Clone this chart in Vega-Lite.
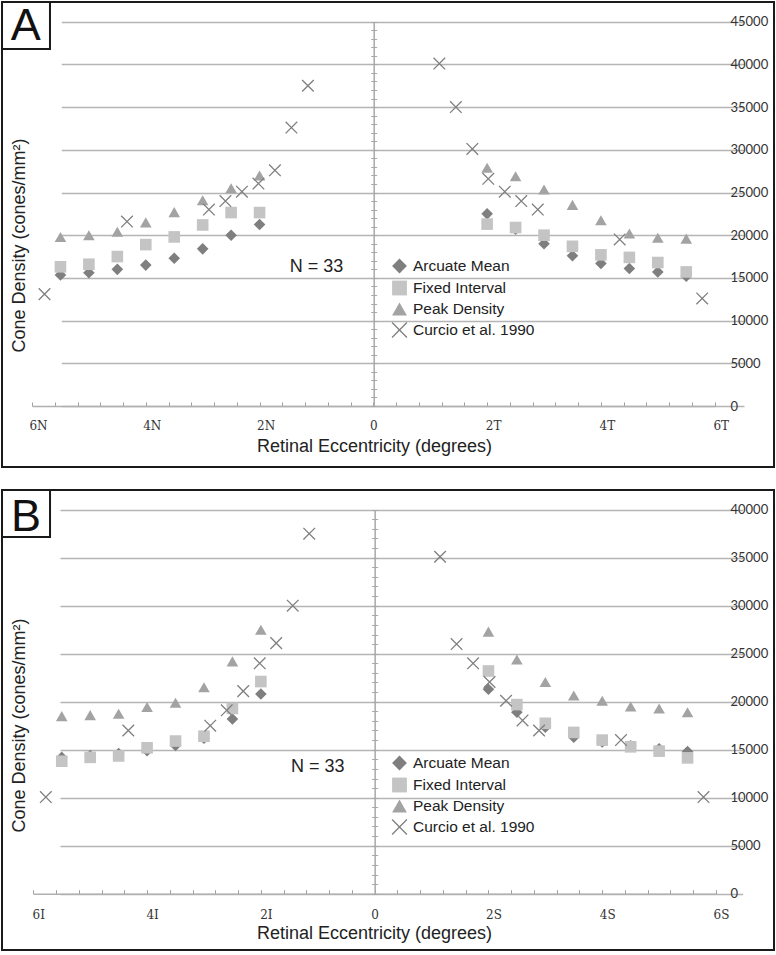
{
  "$schema": "https://vega.github.io/schema/vega-lite/v6.json",
  "padding": 0,
  "background": "white",
  "spacing": 20,
  "config": {
    "view": {"stroke": "#1a1a1a", "strokeWidth": 2},
    "font": "Liberation Sans"
  },
  "resolve": {"scale": {"shape": "independent", "fill": "independent", "stroke": "independent"}},
  "datasets": {
    "A": [
      {"series": "Arcuate Mean", "x": -5.5, "y": 15350},
      {"series": "Arcuate Mean", "x": -5, "y": 15600},
      {"series": "Arcuate Mean", "x": -4.5, "y": 16000},
      {"series": "Arcuate Mean", "x": -4, "y": 16500},
      {"series": "Arcuate Mean", "x": -3.5, "y": 17300},
      {"series": "Arcuate Mean", "x": -3, "y": 18400},
      {"series": "Arcuate Mean", "x": -2.5, "y": 20000},
      {"series": "Arcuate Mean", "x": -2, "y": 21250},
      {"series": "Arcuate Mean", "x": 2, "y": 22500},
      {"series": "Arcuate Mean", "x": 2.5, "y": 20700},
      {"series": "Arcuate Mean", "x": 3, "y": 19000},
      {"series": "Arcuate Mean", "x": 3.5, "y": 17600},
      {"series": "Arcuate Mean", "x": 4, "y": 16700},
      {"series": "Arcuate Mean", "x": 4.5, "y": 16100},
      {"series": "Arcuate Mean", "x": 5, "y": 15700},
      {"series": "Arcuate Mean", "x": 5.5, "y": 15200},
      {"series": "Fixed Interval", "x": -5.5, "y": 16300},
      {"series": "Fixed Interval", "x": -5, "y": 16600},
      {"series": "Fixed Interval", "x": -4.5, "y": 17500},
      {"series": "Fixed Interval", "x": -4, "y": 18900},
      {"series": "Fixed Interval", "x": -3.5, "y": 19800},
      {"series": "Fixed Interval", "x": -3, "y": 21200},
      {"series": "Fixed Interval", "x": -2.5, "y": 22650},
      {"series": "Fixed Interval", "x": -2, "y": 22650},
      {"series": "Fixed Interval", "x": 2, "y": 21300},
      {"series": "Fixed Interval", "x": 2.5, "y": 20900},
      {"series": "Fixed Interval", "x": 3, "y": 20000},
      {"series": "Fixed Interval", "x": 3.5, "y": 18700},
      {"series": "Fixed Interval", "x": 4, "y": 17700},
      {"series": "Fixed Interval", "x": 4.5, "y": 17400},
      {"series": "Fixed Interval", "x": 5, "y": 16800},
      {"series": "Fixed Interval", "x": 5.5, "y": 15700},
      {"series": "Peak Density", "x": -5.5, "y": 19800},
      {"series": "Peak Density", "x": -5, "y": 20000},
      {"series": "Peak Density", "x": -4.5, "y": 20400},
      {"series": "Peak Density", "x": -4, "y": 21500},
      {"series": "Peak Density", "x": -3.5, "y": 22700},
      {"series": "Peak Density", "x": -3, "y": 24100},
      {"series": "Peak Density", "x": -2.5, "y": 25500},
      {"series": "Peak Density", "x": -2, "y": 27000},
      {"series": "Peak Density", "x": 2, "y": 27900},
      {"series": "Peak Density", "x": 2.5, "y": 26900},
      {"series": "Peak Density", "x": 3, "y": 25350},
      {"series": "Peak Density", "x": 3.5, "y": 23550},
      {"series": "Peak Density", "x": 4, "y": 21750},
      {"series": "Peak Density", "x": 4.5, "y": 20200},
      {"series": "Peak Density", "x": 5, "y": 19700},
      {"series": "Peak Density", "x": 5.5, "y": 19600},
      {"series": "Curcio et al. 1990", "x": -5.78, "y": 13100},
      {"series": "Curcio et al. 1990", "x": -4.33, "y": 21600},
      {"series": "Curcio et al. 1990", "x": -2.89, "y": 23000},
      {"series": "Curcio et al. 1990", "x": -2.6, "y": 24000},
      {"series": "Curcio et al. 1990", "x": -2.31, "y": 25100},
      {"series": "Curcio et al. 1990", "x": -2.02, "y": 26050},
      {"series": "Curcio et al. 1990", "x": -1.73, "y": 27600},
      {"series": "Curcio et al. 1990", "x": -1.44, "y": 32600},
      {"series": "Curcio et al. 1990", "x": -1.15, "y": 37500},
      {"series": "Curcio et al. 1990", "x": 1.16, "y": 40100},
      {"series": "Curcio et al. 1990", "x": 1.45, "y": 35000},
      {"series": "Curcio et al. 1990", "x": 1.74, "y": 30100},
      {"series": "Curcio et al. 1990", "x": 2.02, "y": 26600},
      {"series": "Curcio et al. 1990", "x": 2.31, "y": 25100},
      {"series": "Curcio et al. 1990", "x": 2.6, "y": 24000},
      {"series": "Curcio et al. 1990", "x": 2.89, "y": 23000},
      {"series": "Curcio et al. 1990", "x": 4.33, "y": 19500},
      {"series": "Curcio et al. 1990", "x": 5.78, "y": 12600}
    ],
    "B": [
      {"series": "Arcuate Mean", "x": -5.5, "y": 14200},
      {"series": "Arcuate Mean", "x": -5, "y": 14400},
      {"series": "Arcuate Mean", "x": -4.5, "y": 14600},
      {"series": "Arcuate Mean", "x": -4, "y": 14900},
      {"series": "Arcuate Mean", "x": -3.5, "y": 15450},
      {"series": "Arcuate Mean", "x": -3, "y": 16200},
      {"series": "Arcuate Mean", "x": -2.5, "y": 18200},
      {"series": "Arcuate Mean", "x": -2, "y": 20800},
      {"series": "Arcuate Mean", "x": 2, "y": 21300},
      {"series": "Arcuate Mean", "x": 2.5, "y": 18900},
      {"series": "Arcuate Mean", "x": 3, "y": 17350},
      {"series": "Arcuate Mean", "x": 3.5, "y": 16300},
      {"series": "Arcuate Mean", "x": 4, "y": 15800},
      {"series": "Arcuate Mean", "x": 4.5, "y": 15400},
      {"series": "Arcuate Mean", "x": 5, "y": 15100},
      {"series": "Arcuate Mean", "x": 5.5, "y": 14800},
      {"series": "Fixed Interval", "x": -5.5, "y": 13800},
      {"series": "Fixed Interval", "x": -5, "y": 14200},
      {"series": "Fixed Interval", "x": -4.5, "y": 14350},
      {"series": "Fixed Interval", "x": -4, "y": 15200},
      {"series": "Fixed Interval", "x": -3.5, "y": 15900},
      {"series": "Fixed Interval", "x": -3, "y": 16400},
      {"series": "Fixed Interval", "x": -2.5, "y": 19300},
      {"series": "Fixed Interval", "x": -2, "y": 22100},
      {"series": "Fixed Interval", "x": 2, "y": 23200},
      {"series": "Fixed Interval", "x": 2.5, "y": 19700},
      {"series": "Fixed Interval", "x": 3, "y": 17750},
      {"series": "Fixed Interval", "x": 3.5, "y": 16800},
      {"series": "Fixed Interval", "x": 4, "y": 16000},
      {"series": "Fixed Interval", "x": 4.5, "y": 15300},
      {"series": "Fixed Interval", "x": 5, "y": 14850},
      {"series": "Fixed Interval", "x": 5.5, "y": 14150},
      {"series": "Peak Density", "x": -5.5, "y": 18500},
      {"series": "Peak Density", "x": -5, "y": 18600},
      {"series": "Peak Density", "x": -4.5, "y": 18750},
      {"series": "Peak Density", "x": -4, "y": 19450},
      {"series": "Peak Density", "x": -3.5, "y": 19900},
      {"series": "Peak Density", "x": -3, "y": 21500},
      {"series": "Peak Density", "x": -2.5, "y": 24200},
      {"series": "Peak Density", "x": -2, "y": 27500},
      {"series": "Peak Density", "x": 2, "y": 27300},
      {"series": "Peak Density", "x": 2.5, "y": 24400},
      {"series": "Peak Density", "x": 3, "y": 22050},
      {"series": "Peak Density", "x": 3.5, "y": 20650},
      {"series": "Peak Density", "x": 4, "y": 20100},
      {"series": "Peak Density", "x": 4.5, "y": 19500},
      {"series": "Peak Density", "x": 5, "y": 19300},
      {"series": "Peak Density", "x": 5.5, "y": 18900},
      {"series": "Curcio et al. 1990", "x": -5.78, "y": 10070},
      {"series": "Curcio et al. 1990", "x": -4.33, "y": 17000},
      {"series": "Curcio et al. 1990", "x": -2.89, "y": 17500},
      {"series": "Curcio et al. 1990", "x": -2.6, "y": 19100},
      {"series": "Curcio et al. 1990", "x": -2.31, "y": 21100},
      {"series": "Curcio et al. 1990", "x": -2.02, "y": 24000},
      {"series": "Curcio et al. 1990", "x": -1.73, "y": 26100},
      {"series": "Curcio et al. 1990", "x": -1.44, "y": 30000},
      {"series": "Curcio et al. 1990", "x": -1.15, "y": 37500},
      {"series": "Curcio et al. 1990", "x": 1.15, "y": 35100},
      {"series": "Curcio et al. 1990", "x": 1.44, "y": 26000},
      {"series": "Curcio et al. 1990", "x": 1.73, "y": 24000},
      {"series": "Curcio et al. 1990", "x": 2.02, "y": 22050},
      {"series": "Curcio et al. 1990", "x": 2.31, "y": 20100},
      {"series": "Curcio et al. 1990", "x": 2.6, "y": 18050},
      {"series": "Curcio et al. 1990", "x": 2.89, "y": 17000},
      {"series": "Curcio et al. 1990", "x": 4.33, "y": 16000},
      {"series": "Curcio et al. 1990", "x": 5.78, "y": 10070}
    ]
  },
  "vconcat": [
    {
      "width": 772,
      "height": 465,
      "data": {"name": "A"},
      "resolve": {"axis": {"x": "independent", "y": "independent"}},
      "layer": [
        {
          "mark": {"type": "point", "filled": true, "size": 135, "strokeWidth": 1.3, "opacity": 1},
          "encoding": {
            "x": {
              "field": "x", "type": "quantitative",
              "scale": {"domain": [-6, 6], "range": [30, 712.7], "nice": false, "zero": false},
              "axis": {
                "orient": "bottom", "offset": -61,
                "values": [-6, -5.6, -5.2, -4.8, -4.4, -4, -3.6, -3.2, -2.8, -2.4, -2, -1.6, -1.2, -0.8, -0.4, 0, 0.4, 0.8, 1.2, 1.6, 2, 2.4, 2.8, 3.2, 3.6, 4, 4.4, 4.8, 5.2, 5.6, 6],
                "labelExpr": "datum.value == -6 ? '6N' : datum.value == -4 ? '4N' : datum.value == -2 ? '2N' : datum.value == 0 ? '0' : datum.value == 2 ? '2T' : datum.value == 4 ? '4T' : datum.value == 6 ? '6T' : ''",
                "labelOverlap": false, "labelFlush": false,
                "labelOffset": {"expr": "datum.value == 0 ? 0 : 6"},
                "tickSize": -4, "tickColor": "#a0a0a0", "tickWidth": 1,
                "domainColor": "#b0b0b0", "domainWidth": 1.5,
                "labelFont": "DejaVu Serif", "labelFontSize": 12, "labelColor": "#333333",
                "labelBaseline": "middle", "labelPadding": 23.5,
                "grid": false,
                "title": "Retinal Eccentricity (degrees)",
                "titleFont": "Liberation Sans", "titleFontSize": 18, "titleFontWeight": "normal", "titleColor": "#222222",
                "titleX": 372, "titleY": 40, "titleBaseline": "middle"
              }
            },
            "y": {
              "field": "y", "type": "quantitative",
              "scale": {"domain": [0, 45000], "range": [404, 19.7], "nice": false, "zero": false},
              "axis": {
                "orient": "right", "offset": -59.3,
                "values": [0, 5000, 10000, 15000, 20000, 25000, 30000, 35000, 40000, 45000],
                "format": "d", "domain": false, "ticks": false,
                "grid": true, "gridColor": "#b5b5b5", "gridWidth": 1.5,
                "labelFont": "Lato", "labelFontSize": 13, "labelColor": "#333333",
                "labelPadding": 15.3, "labelAlign": "left", "labelOverlap": false, "labelFlush": false,
                "title": null
              }
            },
            "shape": {
              "field": "series", "type": "nominal",
              "scale": {"domain": ["Arcuate Mean", "Fixed Interval", "Peak Density", "Curcio et al. 1990"], "range": ["diamond", "square", "triangle-up", "M-1,-1L1,1M-1,1L1,-1"]},
              "legend": {"orient": "none", "legendX": 389, "legendY": 255.5, "title": null, "labelFont": "Liberation Sans", "labelFontSize": 15.5, "labelColor": "#222222", "symbolSize": 220, "rowPadding": 1, "labelOffset": 5, "symbolStrokeWidth": 1.3}
            },
            "fill": {
              "field": "series", "type": "nominal",
              "scale": {"domain": ["Arcuate Mean", "Fixed Interval", "Peak Density", "Curcio et al. 1990"], "range": ["#7f7f7f", "#c4c4c4", "#a3a3a3", "transparent"]},
              "legend": {"orient": "none", "legendX": 389, "legendY": 255.5, "title": null, "labelFont": "Liberation Sans", "labelFontSize": 15.5, "labelColor": "#222222", "symbolSize": 220, "rowPadding": 1, "labelOffset": 5, "symbolStrokeWidth": 1.3}
            },
            "stroke": {
              "field": "series", "type": "nominal",
              "scale": {"domain": ["Arcuate Mean", "Fixed Interval", "Peak Density", "Curcio et al. 1990"], "range": ["transparent", "transparent", "transparent", "#7f7f7f"]},
              "legend": {"orient": "none", "legendX": 389, "legendY": 255.5, "title": null, "labelFont": "Liberation Sans", "labelFontSize": 15.5, "labelColor": "#222222", "symbolSize": 220, "rowPadding": 1, "labelOffset": 5, "symbolStrokeWidth": 1.3}
            }
          }
        },
        {
          "mark": {"type": "point", "opacity": 0},
          "encoding": {
            "x": {"field": "x", "type": "quantitative", "axis": null},
            "y": {
              "field": "y", "type": "quantitative",
              "axis": {
                "orient": "left", "offset": -371.7, "tickCount": 45,
                "domain": true, "domainColor": "#a8a8a8", "domainWidth": 1.5,
                "ticks": true, "tickSize": 3, "tickColor": "#a8a8a8", "tickWidth": 1,
                "labels": false, "grid": false,
                "title": "Cone Density (cones/mm²)",
                "titleFont": "Liberation Sans", "titleFontSize": 18, "titleFontWeight": "normal", "titleColor": "#222222",
                "titleX": -354.7, "titleY": 243, "titleBaseline": "middle", "titleAngle": -90
              }
            }
          }
        },
        {
          "mark": {"type": "point", "opacity": 0},
          "encoding": {
            "x": {"field": "x", "type": "quantitative", "axis": null},
            "y": {
              "field": "y", "type": "quantitative",
              "axis": {
                "orient": "right", "offset": -400.3, "tickCount": 45,
                "domain": false, "ticks": true, "tickSize": 3, "tickColor": "#a8a8a8", "tickWidth": 1,
                "labels": false, "grid": false, "title": null
              }
            }
          }
        },
        {
          "data": {"values": [{}]},
          "mark": {"type": "text", "text": "N = 33", "font": "Liberation Sans", "fontSize": 18, "color": "#222222", "align": "center", "baseline": "middle"},
          "encoding": {
            "x": {"datum": -1.0, "type": "quantitative", "axis": null},
            "y": {"datum": 16300, "type": "quantitative", "axis": null}
          }
        },
        {
          "data": {"values": [{}]},
          "mark": {"type": "rect", "fill": "white", "stroke": "#1a1a1a", "strokeWidth": 2, "clip": false},
          "encoding": {
            "x": {"datum": -6.527, "type": "quantitative", "axis": null},
            "x2": {"datum": -5.684},
            "y": {"datum": 47300, "type": "quantitative", "axis": null},
            "y2": {"datum": 41800}
          }
        },
        {
          "data": {"values": [{}]},
          "mark": {"type": "text", "text": "A", "font": "Liberation Sans", "fontSize": 45, "color": "#111111", "align": "center", "baseline": "alphabetic"},
          "encoding": {
            "x": {"datum": -6.11, "type": "quantitative", "axis": null},
            "y": {"datum": 42800, "type": "quantitative", "axis": null}
          }
        }
      ]
    },
    {
      "width": 772,
      "height": 460,
      "data": {"name": "B"},
      "resolve": {"axis": {"x": "independent", "y": "independent"}},
      "layer": [
        {
          "mark": {"type": "point", "filled": true, "size": 135, "strokeWidth": 1.3, "opacity": 1},
          "encoding": {
            "x": {
              "field": "x", "type": "quantitative",
              "scale": {"domain": [-6, 6], "range": [31.3, 714], "nice": false, "zero": false},
              "axis": {
                "orient": "bottom", "offset": -56.3,
                "values": [-6, -5.6, -5.2, -4.8, -4.4, -4, -3.6, -3.2, -2.8, -2.4, -2, -1.6, -1.2, -0.8, -0.4, 0, 0.4, 0.8, 1.2, 1.6, 2, 2.4, 2.8, 3.2, 3.6, 4, 4.4, 4.8, 5.2, 5.6, 6],
                "labelExpr": "datum.value == -6 ? '6I' : datum.value == -4 ? '4I' : datum.value == -2 ? '2I' : datum.value == 0 ? '0' : datum.value == 2 ? '2S' : datum.value == 4 ? '4S' : datum.value == 6 ? '6S' : ''",
                "labelOverlap": false, "labelFlush": false,
                "labelOffset": {"expr": "datum.value == 0 ? 0 : 5"},
                "tickSize": -4, "tickColor": "#a0a0a0", "tickWidth": 1,
                "domainColor": "#b0b0b0", "domainWidth": 1.5,
                "labelFont": "DejaVu Serif", "labelFontSize": 12, "labelColor": "#333333",
                "labelBaseline": "middle", "labelPadding": 24.5,
                "grid": false,
                "title": "Retinal Eccentricity (degrees)",
                "titleFont": "Liberation Sans", "titleFontSize": 18, "titleFontWeight": "normal", "titleColor": "#222222",
                "titleX": 372, "titleY": 40, "titleBaseline": "middle"
              }
            },
            "y": {
              "field": "y", "type": "quantitative",
              "scale": {"domain": [0, 40000], "range": [403.7, 19.7], "nice": false, "zero": false},
              "axis": {
                "orient": "right", "offset": -58,
                "values": [0, 5000, 10000, 15000, 20000, 25000, 30000, 35000, 40000],
                "format": "d", "domain": false, "ticks": false,
                "grid": true, "gridColor": "#b5b5b5", "gridWidth": 1.5,
                "labelFont": "Lato", "labelFontSize": 13, "labelColor": "#333333",
                "labelPadding": 14, "labelAlign": "left", "labelOverlap": false, "labelFlush": false,
                "title": null
              }
            },
            "shape": {
              "field": "series", "type": "nominal",
              "scale": {"domain": ["Arcuate Mean", "Fixed Interval", "Peak Density", "Curcio et al. 1990"], "range": ["diamond", "square", "triangle-up", "M-1,-1L1,1M-1,1L1,-1"]},
              "legend": {"orient": "none", "legendX": 389, "legendY": 264.5, "title": null, "labelFont": "Liberation Sans", "labelFontSize": 15.5, "labelColor": "#222222", "symbolSize": 220, "rowPadding": 1, "labelOffset": 5, "symbolStrokeWidth": 1.3}
            },
            "fill": {
              "field": "series", "type": "nominal",
              "scale": {"domain": ["Arcuate Mean", "Fixed Interval", "Peak Density", "Curcio et al. 1990"], "range": ["#7f7f7f", "#c4c4c4", "#a3a3a3", "transparent"]},
              "legend": {"orient": "none", "legendX": 389, "legendY": 264.5, "title": null, "labelFont": "Liberation Sans", "labelFontSize": 15.5, "labelColor": "#222222", "symbolSize": 220, "rowPadding": 1, "labelOffset": 5, "symbolStrokeWidth": 1.3}
            },
            "stroke": {
              "field": "series", "type": "nominal",
              "scale": {"domain": ["Arcuate Mean", "Fixed Interval", "Peak Density", "Curcio et al. 1990"], "range": ["transparent", "transparent", "transparent", "#7f7f7f"]},
              "legend": {"orient": "none", "legendX": 389, "legendY": 264.5, "title": null, "labelFont": "Liberation Sans", "labelFontSize": 15.5, "labelColor": "#222222", "symbolSize": 220, "rowPadding": 1, "labelOffset": 5, "symbolStrokeWidth": 1.3}
            }
          }
        },
        {
          "mark": {"type": "point", "opacity": 0},
          "encoding": {
            "x": {"field": "x", "type": "quantitative", "axis": null},
            "y": {
              "field": "y", "type": "quantitative",
              "axis": {
                "orient": "left", "offset": -372.65, "tickCount": 40,
                "domain": true, "domainColor": "#a8a8a8", "domainWidth": 1.5,
                "ticks": true, "tickSize": 3, "tickColor": "#a8a8a8", "tickWidth": 1,
                "labels": false, "grid": false,
                "title": "Cone Density (cones/mm²)",
                "titleFont": "Liberation Sans", "titleFontSize": 18, "titleFontWeight": "normal", "titleColor": "#222222",
                "titleX": -355.65, "titleY": 235, "titleBaseline": "middle", "titleAngle": -90
              }
            }
          }
        },
        {
          "mark": {"type": "point", "opacity": 0},
          "encoding": {
            "x": {"field": "x", "type": "quantitative", "axis": null},
            "y": {
              "field": "y", "type": "quantitative",
              "axis": {
                "orient": "right", "offset": -399.35, "tickCount": 40,
                "domain": false, "ticks": true, "tickSize": 3, "tickColor": "#a8a8a8", "tickWidth": 1,
                "labels": false, "grid": false, "title": null
              }
            }
          }
        },
        {
          "data": {"values": [{}]},
          "mark": {"type": "text", "text": "N = 33", "font": "Liberation Sans", "fontSize": 18, "color": "#222222", "align": "center", "baseline": "middle"},
          "encoding": {
            "x": {"datum": -1.0, "type": "quantitative", "axis": null},
            "y": {"datum": 13200, "type": "quantitative", "axis": null}
          }
        },
        {
          "data": {"values": [{}]},
          "mark": {"type": "rect", "fill": "white", "stroke": "#1a1a1a", "strokeWidth": 2, "clip": false},
          "encoding": {
            "x": {"datum": -6.55, "type": "quantitative", "axis": null},
            "x2": {"datum": -5.706},
            "y": {"datum": 42040, "type": "quantitative", "axis": null},
            "y2": {"datum": 37160}
          }
        },
        {
          "data": {"values": [{}]},
          "mark": {"type": "text", "text": "B", "font": "Liberation Sans", "fontSize": 45, "color": "#111111", "align": "center", "baseline": "alphabetic"},
          "encoding": {
            "x": {"datum": -6.13, "type": "quantitative", "axis": null},
            "y": {"datum": 37780, "type": "quantitative", "axis": null}
          }
        }
      ]
    }
  ]
}
